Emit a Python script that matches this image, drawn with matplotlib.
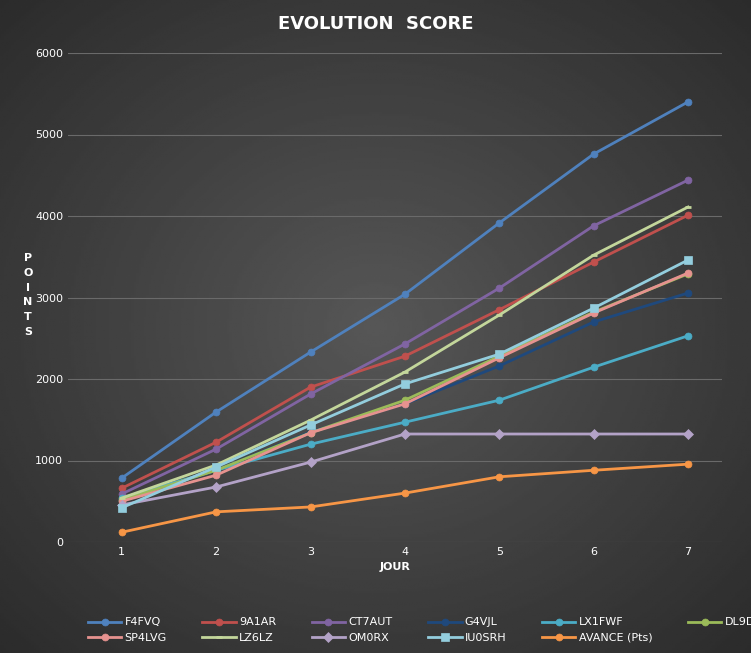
import matplotlib
matplotlib.use("Agg")
import matplotlib.pyplot as plt
import numpy as np

days = [1, 2, 3, 4, 5, 6, 7]
names = ["F4FVQ", "9A1AR", "CT7AUT", "G4VJL", "LX1FWF", "DL9DU",
         "SP4LVG", "LZ6LZ", "OM0RX", "IU0SRH", "AVANCE (Pts)"]
f4fvq = [785, 1595, 2330, 3040, 3915, 4760, 5400]
a9a1ar = [660, 1225, 1900, 2280, 2850, 3435, 4010]
ct7aut = [590, 1140, 1815, 2430, 3115, 3880, 4440]
g4vjl = [515, 880, 1350, 1695, 2160, 2700, 3055]
lx1fwf = [540, 880, 1200, 1470, 1740, 2145, 2530]
dl9du = [515, 880, 1340, 1740, 2280, 2820, 3290]
sp4lvg = [500, 820, 1340, 1695, 2260, 2810, 3300]
lz6lz = [540, 945, 1495, 2085, 2785, 3520, 4110]
om0rx = [455, 675, 980, 1325, 1325, 1325, 1325]
iu0srh = [420, 920, 1435, 1940, 2305, 2870, 3460]
avance = [120, 370, 430, 600, 800, 880, 955]
series = [f4fvq, a9a1ar, ct7aut, g4vjl, lx1fwf, dl9du, sp4lvg, lz6lz, om0rx, iu0srh, avance]
colors = ["#4f81bd", "#c0504d", "#8064a2", "#1f497d", "#4bacc6", "#9bbb59",
          "#e6928f", "#c3d69b", "#b3a2c7", "#93cddd", "#f79646"]
markers = ["o", "o", "o", "o", "o", "o", "o", "_", "D", "s", "o"]

fig = plt.figure(figsize=(7.51, 6.53), dpi=100)
bg = fig.add_axes([0, 0, 1, 1])
yy, xx = np.mgrid[-1:1:300j, -1:1:300j]
r = np.sqrt(xx**2 + yy**2)
bg.imshow(0.34 - 0.12 * r, cmap="gray", vmin=0, vmax=1, aspect="auto", extent=[0, 1, 0, 1])
bg.axis("off")

ax = fig.add_axes([68/751, 1-542/653, (722-68)/751, (542-53)/653])
ax.set_facecolor("none")
handles = []
for s, n, c, m in zip(series, names, colors, markers):
    ms = 6 if m == "s" else 5
    h, = ax.plot(days, s, color=c, lw=2, marker=m, ms=ms, mew=2 if m == "_" else 0.5,
                 mec=c, label=n)
    handles.append(h)
ax.set_xlim(0.43, 7.36)
ax.set_ylim(0, 6000)
ax.set_yticks(range(0, 6001, 1000))
ax.set_xticks(days)
ax.grid(axis="y", color="#6a6a6a", lw=0.8)
ax.set_axisbelow(True)
for sp in ax.spines.values():
    sp.set_visible(False)
ax.tick_params(colors="white", labelsize=8, length=0)
ax.set_xlabel("JOUR", color="white", fontsize=8, fontweight="bold")
fig.text(28/751, 1-295/653, "P\nO\nI\nN\nT\nS", color="white", fontsize=8,
         fontweight="bold", ha="center", va="center", linespacing=1.6)
fig.text(0.5, 1-24/653, "EVOLUTION  SCORE", color="white", fontsize=13,
         fontweight="bold", ha="center", va="center")
order = [0, 6, 1, 7, 2, 8, 3, 9, 4, 10, 5]
fig.legend([handles[i] for i in order], [names[i] for i in order],
           loc="lower left", bbox_to_anchor=(78/751, 0.0), ncol=6,
           frameon=False, fontsize=8, labelcolor="white", handlelength=3,
           columnspacing=3.2, handletextpad=0.3)
fig.savefig("out.png", dpi=100, facecolor="#333333")
